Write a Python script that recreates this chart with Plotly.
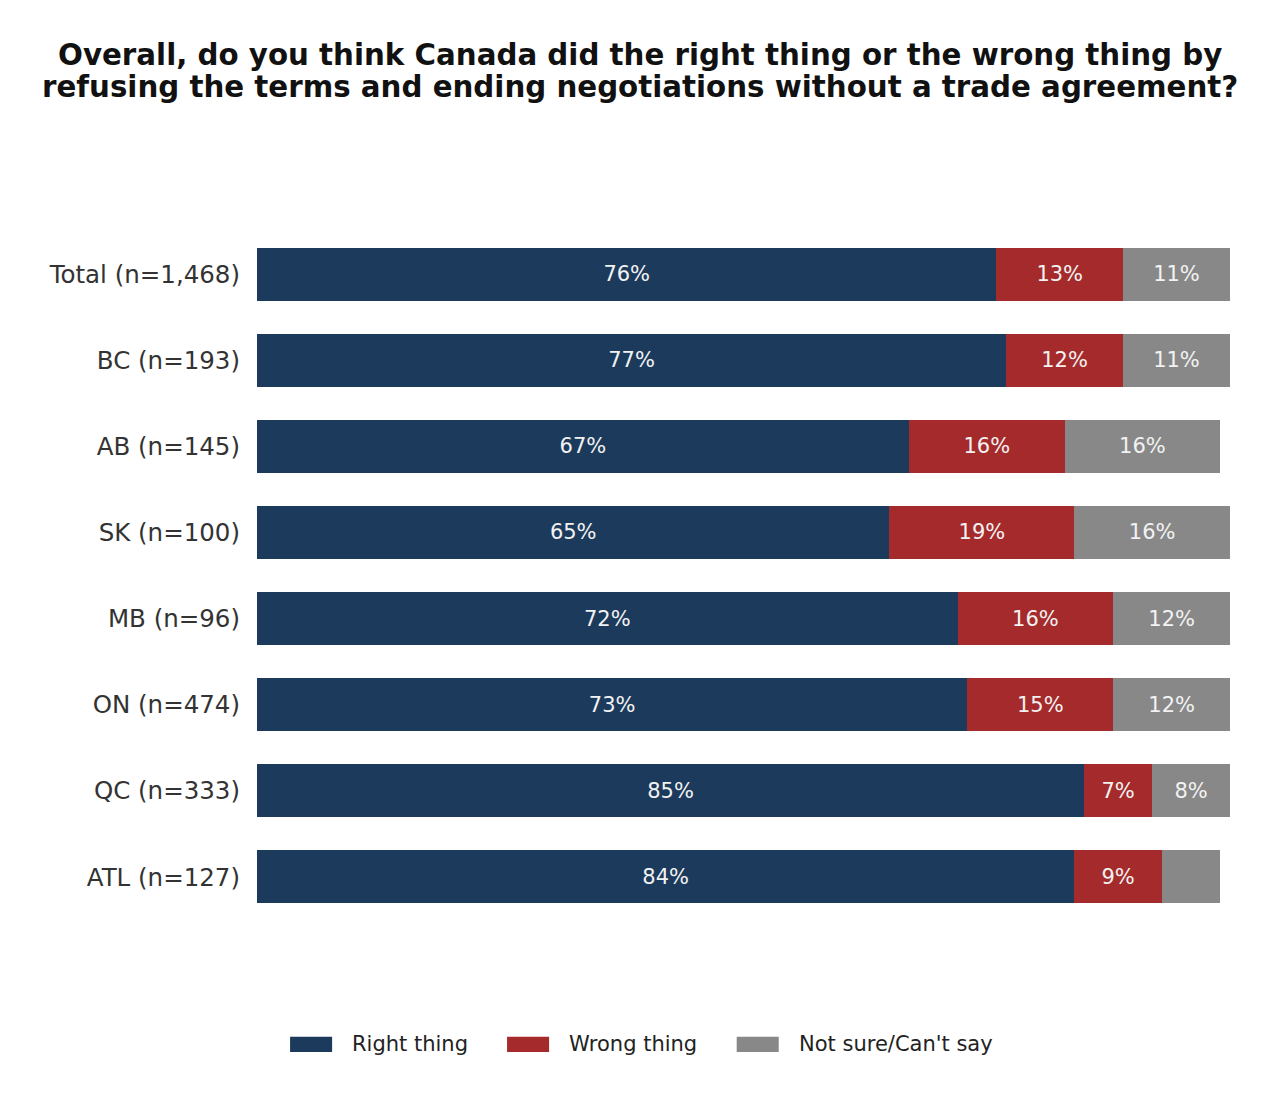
import plotly.graph_objects as go

# -----------------------------
# Chart data
# -----------------------------
regions = [
    "Total (n=1,468)", "BC (n=193)", "AB (n=145)", "SK (n=100)",
    "MB (n=96)", "ON (n=474)", "QC (n=333)", "ATL (n=127)"
]
right_thing = [76, 77, 67, 65, 72, 73, 85, 84]
wrong_thing = [13, 12, 16, 19, 16, 15, 7, 9]
not_sure = [11, 11, 16, 16, 12, 12, 8, 6]

series_names = ["Right thing", "Wrong thing", "Not sure/Can't say"]
series_colors = ["#1c3a5c", "#a52a2b", "#888888"]

title_lines = [
    "Overall, do you think Canada did the right thing or the wrong thing by",
    "refusing the terms and ending negotiations without a trade agreement?",
]

FONT = "DejaVu Sans"

# left edge of each legend entry (paper coordinates)
legend_x = [0.034, 0.257, 0.493]


def bar_labels(values):
    # the smallest segments are left without a label
    return [f"{v}%" if v >= 7 else "" for v in values]


fig = go.Figure()

for name, values, color in zip(series_names,
                               [right_thing, wrong_thing, not_sure],
                               series_colors):
    fig.add_trace(
        go.Bar(
            y=regions,
            x=values,
            name=name,
            orientation="h",
            marker=dict(color=color, line=dict(width=0)),
            text=bar_labels(values),
            textposition="inside",
            insidetextanchor="middle",
            textangle=0,
            textfont=dict(family=FONT, size=21, color="#f2f2f2"),
            hovertemplate="%{y}<br>" + name + ": %{x}%<extra></extra>",
            showlegend=False,
        )
    )

# -----------------------------
# Title (two lines, tight spacing)
# -----------------------------
for i, line in enumerate(title_lines):
    fig.add_annotation(
        text=f"<b>{line}</b>",
        xref="paper", yref="paper",
        x=0.394, y=1.255 - i * 0.0465,
        xanchor="center", yanchor="middle",
        showarrow=False,
        font=dict(family=FONT, size=29.3, color="#111111"),
    )

# -----------------------------
# Legend with wide rectangular swatches
# -----------------------------
for name, color, lx in zip(series_names, series_colors, legend_x):
    fig.add_shape(
        type="rect",
        xref="paper", yref="paper",
        x0=lx, x1=lx + 0.0432,
        y0=-0.1695, y1=-0.1915,
        fillcolor=color,
        line=dict(width=0),
    )
    fig.add_annotation(
        text=name,
        xref="paper", yref="paper",
        x=lx + 0.0617, y=-0.1805,
        xanchor="left", yanchor="middle",
        showarrow=False,
        font=dict(family=FONT, size=21, color="#222222"),
    )

fig.update_layout(
    width=1280,
    height=1106,
    barmode="stack",
    bargap=0.384,
    paper_bgcolor="white",
    plot_bgcolor="white",
    margin=dict(l=249, r=58, t=223, b=194),
    font=dict(family=FONT, color="#333333"),
    showlegend=False,
)

fig.update_xaxes(
    range=[0, 100],
    visible=False,
    showgrid=False,
    zeroline=False,
)
fig.update_yaxes(
    categoryorder="array",
    categoryarray=regions,
    range=[7.5, -0.5],
    showgrid=False,
    zeroline=False,
    showline=False,
    ticks="",
    ticklabelstandoff=16,
    tickfont=dict(family=FONT, size=24.5, color="#333333"),
)

fig.write_html("out.html")
